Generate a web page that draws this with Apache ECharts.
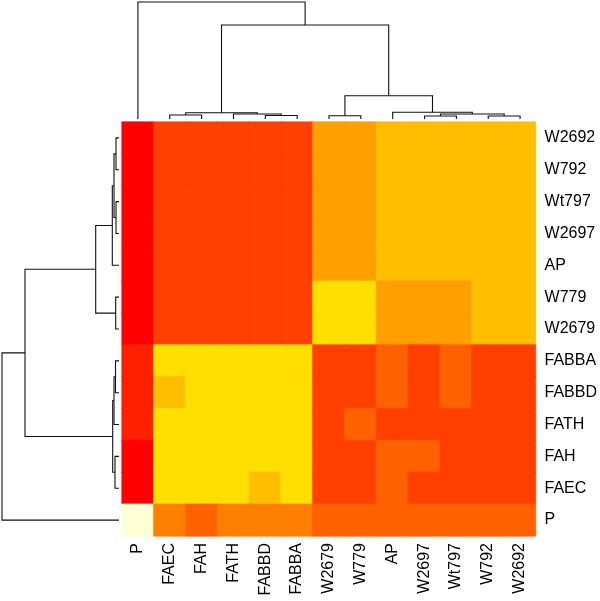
<!DOCTYPE html>
<html>
<head>
<meta charset="utf-8">
<script src="https://cdn.jsdelivr.net/npm/echarts@6/dist/echarts.min.js"></script>
<style>
  html, body { margin: 0; padding: 0; background: #fff; }
  #chart { width: 600px; height: 601px; }
</style>
</head>
<body>
<div id="chart"></div>
<script>
// Leaf order (left-to-right for columns, bottom-to-top for rows)
const leafNames = ['P','FAEC','FAH','FATH','FABBD','FABBA','W2679','W779','AP','W2697','Wt797','W792','W2692'];

// R heat.colors(12) palette; cell values are indices into it
const heatPalette = ['#FF0000','#FF2000','#FF4000','#FF6000','#FF8000','#FF9F00','#FFBF00','#FFDF00','#FFFF00','#FFFF2A','#FFFF80','#FFFFD5'];

// Rows as displayed from top to bottom; columns in leafNames order
const rowW2692 = [0,2,2,2,2,2,5,5,6,6,6,6,6];
const rowW792  = [0,2,2,2,2,2,5,5,6,6,6,6,6];
const rowWt797 = [0,2,2,2,2,2,5,5,6,6,6,6,6];
const rowW2697 = [0,2,2,2,2,2,5,5,6,6,6,6,6];
const rowAP    = [0,2,2,2,2,2,5,5,6,6,6,6,6];
const rowW779  = [0,2,2,2,2,2,7,7,5,5,5,6,6];
const rowW2679 = [0,2,2,2,2,2,7,7,5,5,5,6,6];
const rowFABBA = [1,7,7,7,7,7,2,2,3,2,3,2,2];
const rowFABBD = [1,6,7,7,7,7,2,2,3,2,3,2,2];
const rowFATH  = [1,7,7,7,7,7,2,3,2,2,2,2,2];
const rowFAH   = [0,7,7,7,7,7,2,2,3,3,2,2,2];
const rowFAEC  = [0,7,7,7,6,7,2,2,3,2,2,2,2];
const rowP     = [11,4,3,4,4,4,3,3,3,3,3,3,3];

const rowsTopToBottom = [rowW2692,rowW792,rowWt797,rowW2697,rowAP,rowW779,rowW2679,rowFABBA,rowFABBD,rowFATH,rowFAH,rowFAEC,rowP];

// Hierarchical clustering merges (same tree for rows and columns)
const mergeLeft   = ['W2697','W792','W2679','FABBD','FAEC','FATH','m0','m4','AP','m2','m7','P'];
const mergeRight  = ['Wt797','W2692','W779','FABBA','FAH','m3','m1','m5','m6','m8','m9','m10'];
const mergeHeight = [3, 3, 3.3, 3.5, 4, 5, 5, 6.3, 6.7, 23.3, 94, 117];

// ---- build heatmap data ----
const heatData = [];
const nRows = rowsTopToBottom.length;
rowsTopToBottom.forEach((row, ti) => {
  const yi = nRows - 1 - ti;
  row.forEach((v, xi) => {
    const c = heatPalette[v];
    heatData.push({ value: [xi, yi, v], itemStyle: { color: c, borderColor: c, borderWidth: 0.6 } });
  });
});

// ---- build dendrogram segments ----
const nodePos = {}, nodeH = {};
leafNames.forEach((n, i) => { nodePos[n] = i; nodeH[n] = 0; });
const dendroData = [];
mergeLeft.forEach((a, k) => {
  const b = mergeRight[k];
  const h = mergeHeight[k];
  dendroData.push([nodePos[a], nodeH[a], nodePos[b], nodeH[b], h]);
  nodePos['m' + k] = (nodePos[a] + nodePos[b]) / 2;
  nodeH['m' + k] = h;
});

function makeRender(orient) {
  return function (params, api) {
    const pa = api.value(0), ha = api.value(1), pb = api.value(2), hb = api.value(3), h = api.value(4);
    const pts = orient === 'top'
      ? [[pa, ha], [pa, h], [pb, h], [pb, hb]]
      : [[ha, pa], [h, pa], [h, pb], [hb, pb]];
    return {
      type: 'polyline',
      shape: { points: pts.map(p => api.coord(p)) },
      style: { stroke: '#111', fill: null, lineWidth: 1.1 }
    };
  };
}

const maxH = Math.max(...mergeHeight);
const chart = echarts.init(document.getElementById('chart'), null, { renderer: 'canvas' });
chart.setOption({
  animation: false,
  backgroundColor: '#fff',
  grid: [
    { left: 122, top: 122, width: 414, height: 414 },
    { left: 122, top: 2, width: 414, height: 117 },
    { left: 2, top: 122, width: 117, height: 414 }
  ],
  xAxis: [
    { type: 'category', gridIndex: 0, data: leafNames, position: 'bottom',
      axisLine: { show: false }, axisTick: { show: false }, splitLine: { show: false },
      axisLabel: { rotate: 90, fontSize: 16, color: '#000', fontFamily: 'Liberation Sans, Arial, sans-serif', margin: 7, interval: 0 } },
    { type: 'value', gridIndex: 1, min: -0.5, max: leafNames.length - 0.5, show: false },
    { type: 'value', gridIndex: 2, min: 0, max: maxH, inverse: true, show: false }
  ],
  yAxis: [
    { type: 'category', gridIndex: 0, data: leafNames, position: 'right',
      axisLine: { show: false }, axisTick: { show: false }, splitLine: { show: false },
      axisLabel: { fontSize: 16, color: '#000', fontFamily: 'Liberation Sans, Arial, sans-serif', margin: 9, interval: 0 } },
    { type: 'value', gridIndex: 1, min: 0, max: maxH, show: false },
    { type: 'value', gridIndex: 2, min: -0.5, max: leafNames.length - 0.5, show: false }
  ],
  series: [
    { type: 'heatmap', xAxisIndex: 0, yAxisIndex: 0, data: heatData,
      emphasis: { disabled: true }, progressive: 0 },
    { type: 'custom', xAxisIndex: 1, yAxisIndex: 1, data: dendroData,
      renderItem: makeRender('top'), clip: false, silent: true },
    { type: 'custom', xAxisIndex: 2, yAxisIndex: 2, data: dendroData,
      renderItem: makeRender('left'), clip: false, silent: true }
  ]
});
</script>
</body>
</html>
